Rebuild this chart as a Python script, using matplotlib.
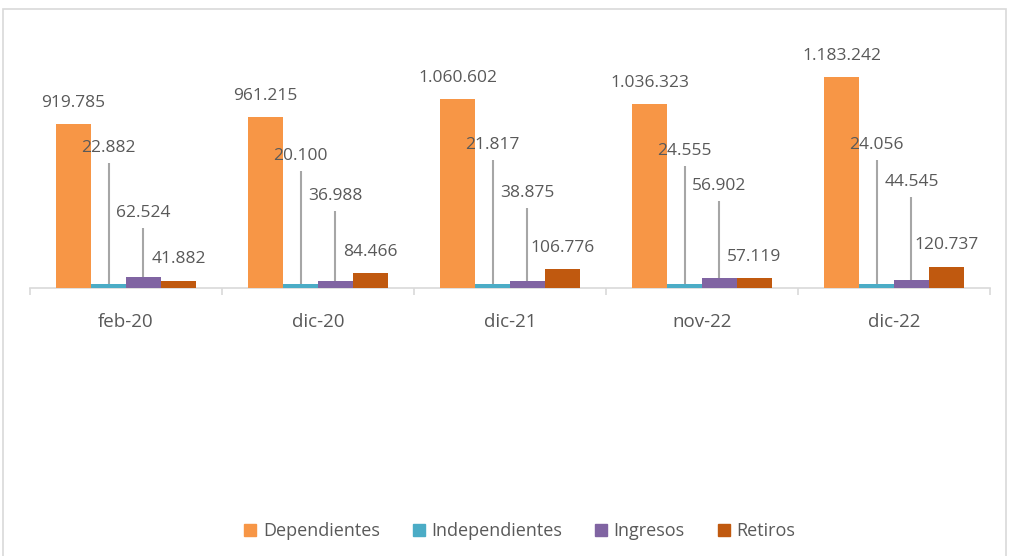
import matplotlib
matplotlib.use("Agg")
import matplotlib.pyplot as plt
from matplotlib.patches import Rectangle
from matplotlib.lines import Line2D

# Categories and series
periodos = ["feb-20", "dic-20", "dic-21", "nov-22", "dic-22"]
dependientes = [919785, 961215, 1060602, 1036323, 1183242]
independientes = [22882, 20100, 21817, 24555, 24056]
ingresos = [62524, 36988, 38875, 56902, 44545]
retiros = [41882, 84466, 106776, 57119, 120737]
series_names = ["Dependientes", "Independientes", "Ingresos", "Retiros"]

# Heights (data units) where the labels of the small series sit
lbl_indep = [786800, 741800, 803700, 770000, 803700]
lbl_ingr = [421500, 517000, 533900, 573200, 595700]
lbl_ret = [163000, 202300, 224800, 174200, 241700]

colors = ["#F79646", "#4BACC6", "#8064A2", "#C0590F"]
text_col = "#595959"
grid_col = "#D9D9D9"
leader_col = "#A6A6A6"
FONT = "Open Sans"

W, H = 1011, 556
fig = plt.figure(figsize=(W / 100, H / 100), dpi=100)
fig.patch.set_facecolor("white")

# Outer chart frame
fig.add_artist(Rectangle((3 / W, -0.01), 1003 / W, 1 - 9 / H + 0.01,
                         transform=fig.transFigure, fill=False,
                         edgecolor=grid_col, lw=1.2))

base_px = 288
top_px = 20
ax = fig.add_axes([30 / W, (H - base_px) / H, 960 / W, (base_px - top_px) / H])
ax.set_xlim(-0.5, 4.5)
ax.set_ylim(0, 1506000)
for s in ["top", "right", "left"]:
    ax.spines[s].set_visible(False)
ax.spines["bottom"].set_color(grid_col)
ax.spines["bottom"].set_linewidth(1.2)
ax.set_yticks([])

bw = 0.182
data = [dependientes, independientes, ingresos, retiros]
xs = range(len(periodos))
for k, vals in enumerate(data):
    offs = (k - 1.5) * bw
    ax.bar([x + offs for x in xs], vals, width=bw, color=colors[k],
           label=series_names[k], zorder=3)

ax.set_xticks(list(xs))
ax.set_xticklabels(periodos, fontsize=13.5, color=text_col, family=FONT)
ax.tick_params(axis="x", which="major", length=0, pad=18)
ax.set_xticks([x - 0.5 for x in range(len(periodos) + 1)], minor=True)
ax.tick_params(axis="x", which="minor", length=5, color=grid_col, width=1.2)

fmt = lambda v: f"{v:,}".replace(",", ".")

fig.canvas.draw()
p0 = ax.transData.transform((0, 0))[1]
p1 = ax.transData.transform((0, 100000))[1]
units_per_px = 100000 / (p1 - p0)

# Dependientes labels, just above the bars
for i, v in enumerate(dependientes):
    ax.annotate(fmt(v), (i - 1.5 * bw, v), xytext=(0, 21 * 0.72),
                textcoords="offset points", ha="center", va="center",
                fontsize=12.5, color=text_col, family=FONT)

# Smaller series: labels lifted up, with leader lines when far from the bar
for k, (vals, lbls) in enumerate([(independientes, lbl_indep),
                                  (ingresos, lbl_ingr),
                                  (retiros, lbl_ret)], start=1):
    offs = (k - 1.5) * bw
    for i, (v, ly) in enumerate(zip(vals, lbls)):
        x = i + offs
        ax.text(x, ly, fmt(v), ha="center", va="center", fontsize=12.5,
                color=text_col, family=FONT, zorder=5)
        line_top = ly - 15 * units_per_px
        if line_top - v > 25 * units_per_px:
            ax.plot([x, x], [v, line_top], color=leader_col, lw=1.5,
                    zorder=4, solid_capstyle="butt")

handles = [Line2D([], [], marker="s", linestyle="none", markersize=8,
                  markerfacecolor=c, markeredgecolor=c) for c in colors]
fig.legend(handles, series_names, loc="center", ncol=4,
           bbox_to_anchor=(520 / W, (H - 531) / H), frameon=False,
           prop={"family": FONT, "size": 13}, labelcolor=text_col,
           handlelength=0.6, handletextpad=0.4, columnspacing=1.85)

fig.savefig("out.png", dpi=100, facecolor="white")
